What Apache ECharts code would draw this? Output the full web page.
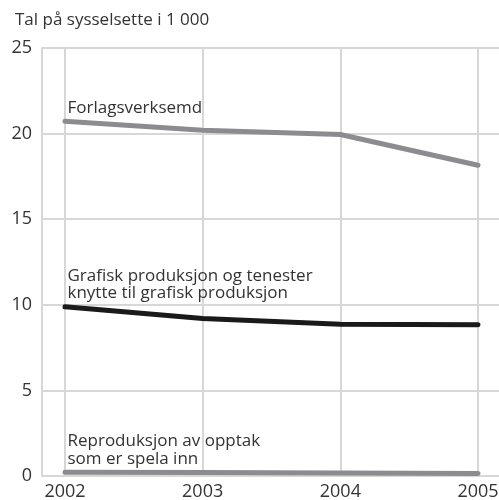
<!DOCTYPE html>
<html><head><meta charset="utf-8">
<script src="https://cdn.jsdelivr.net/npm/echarts@6/dist/echarts.min.js"></script>
<style>html,body{margin:0;padding:0;background:#fff}#c{width:499px;height:500px}</style>
</head><body><div id="c"></div>
<script>
const years = ['2002', '2003', '2004', '2005'];
const yTicks = [0, 5, 10, 15, 20, 25];
const forlag = [20.72, 20.2, 19.95, 18.15];
const grafisk = [9.88, 9.2, 8.86, 8.84];
const reprod = [0.22, 0.2, 0.18, 0.15];
const names = ['Forlagsverksemd', 'Grafisk produksjon og tenester\nknytte til grafisk produksjon', 'Reproduksjon av opptak\nsom er spela inn'];
const yTitle = 'Tal på sysselsette i 1 000';

const FONT = 'Open Sans';
const grid = '#d7d7d7';
function ser(name, vals, color, w) {
  return {
    type: 'line', xAxisIndex: 0, yAxisIndex: 0, name: name,
    symbol: 'circle', symbolSize: 1, showSymbol: true,
    itemStyle: {color: 'rgba(0,0,0,0)'},
    lineStyle: {color: color, width: w, cap: 'round', join: 'round'},
    silent: true, z: 3,
    data: vals.map((v, i) => i === 0 ? {
      value: v,
      label: {show: true, formatter: name, position: [3, -4], align: 'left', verticalAlign: 'bottom',
        fontFamily: FONT, fontSize: 17, lineHeight: 17.5, color: '#333'}
    } : v)
  };
}
const chart = echarts.init(document.getElementById('c'), null, {renderer: 'canvas'});
chart.setOption({
  animation: false,
  title: {text: yTitle, left: 10, top: 7, textStyle: {fontFamily: FONT, fontSize: 17, fontWeight: 'normal', color: '#333'}},
  grid: [
    {left: 65, right: 21, top: 48, bottom: 24, containLabel: false, outerBoundsMode: 'none'},
    {left: 42, right: 0, top: 48, bottom: 24, containLabel: false, outerBoundsMode: 'none'}
  ],
  xAxis: [
    {type: 'category', gridIndex: 0, data: years, boundaryGap: false,
      axisLine: {show: false}, axisTick: {show: false},
      axisLabel: {fontFamily: FONT, fontSize: 18, color: '#333', margin: 7},
      splitLine: {show: true, lineStyle: {color: grid, width: 2}}},
    {type: 'value', gridIndex: 1, show: false}
  ],
  yAxis: [
    {type: 'value', gridIndex: 0, min: 0, max: 25, interval: 5, show: false, splitLine: {show: false}},
    {type: 'value', gridIndex: 1, min: 0, max: 25, interval: 5,
      axisLine: {show: true, lineStyle: {color: grid, width: 2}}, axisTick: {show: false},
      axisLabel: {fontFamily: FONT, fontSize: 18, color: '#333', margin: 10},
      splitLine: {show: true, lineStyle: {color: grid, width: 2}}}
  ],
  series: [
    ser(names[0], forlag, '#8c8c90', 5),
    ser(names[1], grafisk, '#1a1a1a', 5),
    ser(names[2], reprod, '#8c8c90', 5)
  ]
});
</script></body></html>
